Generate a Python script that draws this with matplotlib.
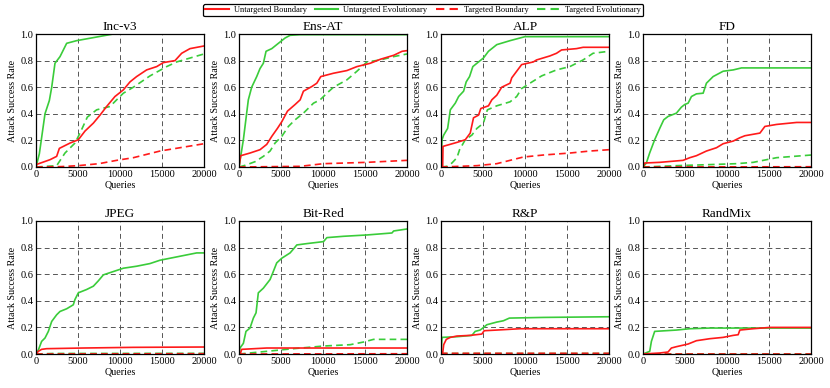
import numpy as np
import matplotlib
matplotlib.use("Agg")
import matplotlib.pyplot as plt
from matplotlib.lines import Line2D

plt.rcParams["font.family"] = "serif"
plt.rcParams["font.serif"] = ["Liberation Serif", "DejaVu Serif"]

# (queries, success rate) pairs
# ub = untargeted boundary, ue = untargeted evolutionary,
# tb = targeted boundary,   te = targeted evolutionary
incv3_ue = [(0, 0), (400, 0.1), (1070, 0.4), (1590, 0.5), (1870, 0.6), (2260, 0.78), (2860, 0.83),
            (3650, 0.93), (4840, 0.95), (9200, 1.0), (20000, 1.0)]
incv3_ub = [(0, 0), (100, 0.02), (1670, 0.055), (2460, 0.08), (2780, 0.14), (4050, 0.18), (5040, 0.205),
            (5830, 0.27), (6830, 0.33), (7620, 0.39), (8410, 0.455), (9400, 0.53), (10400, 0.58),
            (11190, 0.64), (11980, 0.68), (13170, 0.73), (14370, 0.755), (15160, 0.785), (16550, 0.8),
            (17340, 0.855), (18330, 0.89), (20000, 0.91)]
incv3_tb = [(0, 0), (3000, 0.003), (5000, 0.01), (7500, 0.025), (9600, 0.05), (11590, 0.07),
            (14760, 0.12), (20000, 0.175)]
incv3_te = [(0, 0), (2460, 0.01), (3450, 0.105), (4640, 0.18), (5240, 0.255), (6110, 0.375), (7220, 0.43),
            (8810, 0.455), (9600, 0.505), (10400, 0.555), (11590, 0.6), (13570, 0.685), (15560, 0.755),
            (16750, 0.79), (20000, 0.85)]

ensat_ue = [(0, 0), (520, 0.205), (1110, 0.505), (1510, 0.6), (2110, 0.68), (2500, 0.74), (2900, 0.78),
            (3220, 0.87), (3900, 0.89), (4690, 0.93), (5490, 0.97), (6080, 0.99), (7280, 0.995),
            (20000, 0.995)]
ensat_ub = [(0, 0), (200, 0.085), (1310, 0.105), (2500, 0.13), (3300, 0.17), (3900, 0.23), (4570, 0.29),
            (5090, 0.34), (5770, 0.42), (6680, 0.47), (7280, 0.505), (7670, 0.57), (8670, 0.605),
            (9260, 0.63), (9740, 0.68), (11250, 0.705), (12840, 0.725), (14040, 0.755), (15630, 0.78),
            (16830, 0.81), (18420, 0.84), (19420, 0.87), (20000, 0.875)]
ensat_tb = [(0, 0), (7280, 0.005), (10060, 0.025), (15230, 0.035), (20000, 0.05)]
ensat_te = [(0, 0), (720, 0.0125), (1910, 0.04), (2900, 0.08), (3700, 0.12), (4290, 0.18), (5090, 0.23),
            (5880, 0.305), (6680, 0.355), (7670, 0.405), (8870, 0.48), (9660, 0.505), (10460, 0.555),
            (11250, 0.6), (12840, 0.655), (14040, 0.72), (15230, 0.79), (16830, 0.805), (18420, 0.83),
            (20000, 0.85)]

alp_ue = [(0, 0), (120, 0.205), (320, 0.24), (790, 0.29), (1110, 0.43), (1700, 0.48), (2100, 0.53),
          (2690, 0.57), (3000, 0.64), (3400, 0.68), (3790, 0.755), (4470, 0.79), (5060, 0.82),
          (5650, 0.87), (6640, 0.92), (8220, 0.95), (10000, 0.98), (20000, 0.98)]
alp_ub = [(0, 0), (200, 0.005), (240, 0.155), (1900, 0.185), (2890, 0.205), (3480, 0.255), (3870, 0.37),
          (4470, 0.39), (4740, 0.44), (5650, 0.46), (6050, 0.505), (6640, 0.54), (7230, 0.6),
          (8220, 0.63), (8420, 0.67), (9010, 0.72), (9600, 0.77), (10990, 0.79), (11380, 0.805),
          (12960, 0.835), (13750, 0.855), (14350, 0.88), (16130, 0.89), (16920, 0.9), (20000, 0.9)]
alp_tb = [(0, 0), (4270, 0.01), (6640, 0.025), (8220, 0.05), (9800, 0.075), (12170, 0.09),
          (15340, 0.105), (17710, 0.12), (20000, 0.13)]
alp_te = [(0, 0), (710, 0.005), (1300, 0.03), (1900, 0.07), (2210, 0.13), (2890, 0.205), (3680, 0.24),
          (4270, 0.29), (5060, 0.33), (5380, 0.405), (5530, 0.43), (6640, 0.46), (8220, 0.49),
          (9010, 0.53), (9600, 0.59), (10590, 0.63), (11980, 0.685), (13750, 0.73), (15340, 0.755),
          (16920, 0.805), (18100, 0.855), (20000, 0.87)]

fd_ue = [(0, 0), (400, 0.03), (790, 0.105), (1390, 0.205), (1990, 0.29), (2470, 0.355), (2980, 0.38),
         (3980, 0.405), (4570, 0.45), (4970, 0.47), (5370, 0.48), (5770, 0.53), (6360, 0.55),
         (7160, 0.555), (7550, 0.63), (8350, 0.68), (9540, 0.72), (10740, 0.73), (11730, 0.745),
         (20000, 0.745)]
fd_ub = [(0, 0), (200, 0.03), (1990, 0.035), (4770, 0.05), (5570, 0.07), (6360, 0.085), (7550, 0.12),
         (8750, 0.145), (9540, 0.175), (10740, 0.195), (11530, 0.22), (12130, 0.235), (13920, 0.255),
         (14510, 0.305), (15900, 0.32), (18290, 0.335), (20000, 0.335)]
fd_tb = [(0, 0), (20000, 0.002)]
fd_te = [(0, 0), (3980, 0.01), (7950, 0.018), (11130, 0.025), (13120, 0.035), (14710, 0.055),
         (15900, 0.07), (20000, 0.09)]

jpeg_ue = [(0, 0), (280, 0.03), (670, 0.095), (1070, 0.12), (1470, 0.17), (1870, 0.245), (2460, 0.295),
           (2860, 0.32), (3650, 0.34), (4440, 0.37), (4640, 0.41), (5040, 0.46), (6030, 0.485),
           (6830, 0.51), (7420, 0.55), (8020, 0.595), (9210, 0.62), (10400, 0.645), (11980, 0.66),
           (13570, 0.68), (14760, 0.705), (16350, 0.725), (18330, 0.75), (19130, 0.76), (20000, 0.76)]
jpeg_ub = [(0, 0), (280, 0.02), (670, 0.035), (1270, 0.04), (5630, 0.045), (11590, 0.05), (20000, 0.0525)]
jpeg_tb = [(0, 0), (20000, 0.002)]
jpeg_te = [(0, 0), (2000, 0.004), (20000, 0.005)]

bitred_ue = [(0, 0), (120, 0.045), (520, 0.08), (830, 0.17), (1310, 0.195), (1710, 0.27), (2030, 0.31),
             (2300, 0.46), (2900, 0.495), (3700, 0.56), (4020, 0.61), (4490, 0.685), (5090, 0.72),
             (6080, 0.76), (6560, 0.795), (6880, 0.82), (8070, 0.83), (10060, 0.845), (10460, 0.875),
             (12440, 0.885), (15230, 0.895), (18210, 0.91), (18410, 0.925), (20000, 0.94)]
bitred_ub = [(0, 0), (200, 0.01), (320, 0.035), (3300, 0.045), (20000, 0.045)]
bitred_tb = [(0, 0), (20000, 0.002)]
bitred_te = [(0, 0), (3300, 0.02), (6480, 0.04), (10060, 0.06), (13240, 0.07), (14830, 0.09),
             (16020, 0.11), (20000, 0.11)]

rp_ue = [(0, 0), (120, 0.125), (1900, 0.13), (3680, 0.14), (4070, 0.17), (4660, 0.18), (4980, 0.195),
         (5450, 0.22), (6640, 0.24), (7430, 0.25), (8140, 0.27), (12170, 0.275), (20000, 0.28)]
rp_ub = [(0, 0), (200, 0.005), (320, 0.07), (630, 0.11), (1110, 0.125), (1900, 0.135), (3480, 0.14),
         (4860, 0.15), (5140, 0.175), (6640, 0.18), (9410, 0.19), (20000, 0.19)]
rp_tb = [(0, 0), (300, 0.005), (20000, 0.005)]
rp_te = [(0, 0), (300, 0.004), (20000, 0.004)]

randmix_ue = [(0, 0), (600, 0.015), (800, 0.02), (1000, 0.095), (1390, 0.17), (3980, 0.18), (5570, 0.19),
              (7950, 0.195), (20000, 0.195)]
randmix_ub = [(0, 0), (1990, 0.0075), (2980, 0.015), (3380, 0.045), (3980, 0.055), (5370, 0.075),
              (6360, 0.1), (7950, 0.115), (9540, 0.125), (10740, 0.14), (11330, 0.145), (11530, 0.18),
              (13120, 0.19), (15110, 0.2), (20000, 0.2)]
randmix_tb = [(0, 0), (20000, 0.0)]
randmix_te = [(0, 0), (20000, 0.0)]

titles = ["Inc-v3", "Ens-AT", "ALP", "FD", "JPEG", "Bit-Red", "R&P", "RandMix"]
series_names = ["Untargeted Boundary", "Untargeted Evolutionary", "Targeted Boundary", "Targeted Evolutionary"]
panels = [
    (incv3_ub, incv3_ue, incv3_tb, incv3_te),
    (ensat_ub, ensat_ue, ensat_tb, ensat_te),
    (alp_ub, alp_ue, alp_tb, alp_te),
    (fd_ub, fd_ue, fd_tb, fd_te),
    (jpeg_ub, jpeg_ue, jpeg_tb, jpeg_te),
    (bitred_ub, bitred_ue, bitred_tb, bitred_te),
    (rp_ub, rp_ue, rp_tb, rp_te),
    (randmix_ub, randmix_ue, randmix_tb, randmix_te),
]

red = "#ff1a1a"
green = "#3acc3a"
styles = [(red, "-"), (green, "-"), (red, "--"), (green, "--")]

fig = plt.figure(figsize=(8.3, 3.88), dpi=100)
lefts = [36, 239, 441, 643]
w = 168 / 830
bottoms = [(388 - 167) / 388, (388 - 354) / 388]
h = 133 / 388

for i, (title, data) in enumerate(zip(titles, panels)):
    ax = fig.add_axes([lefts[i % 4] / 830, bottoms[i // 4], w, h])
    # draw greens first so the red curves sit on top
    for k in [3, 1, 2, 0]:
        arr = np.array(data[k])
        c, ls = styles[k]
        ax.plot(arr[:, 0], arr[:, 1], color=c, linewidth=1.2,
                linestyle=(0, (4, 2.5)) if ls == "--" else "-")
    ax.set_xlim(0, 20000)
    ax.set_ylim(0, 1.0)
    ax.set_xticks([0, 5000, 10000, 15000, 20000])
    ax.set_yticks([0.0, 0.2, 0.4, 0.6, 0.8, 1.0])
    ax.set_yticklabels(["0.0", "0.2", "0.4", "0.6", "0.8", "1.0"])
    ax.tick_params(labelsize=7.5, length=0, pad=2)
    ax.grid(True, color="#555555", linestyle=(0, (5, 3.5)), linewidth=0.7)
    ax.set_axisbelow(True)
    for sp in ax.spines.values():
        sp.set_linewidth(0.9)
    ax.set_title(title, fontsize=9.5, pad=3)
    ax.set_ylabel("Attack Success Rate", fontsize=7.2, labelpad=2)
    ax.set_xlabel("Queries", fontsize=7.2, labelpad=1)

handles = [Line2D([], [], color=c, linewidth=1.5,
                  linestyle=(0, (4, 2.5)) if ls == "--" else "-") for c, ls in styles]
leg = fig.legend(handles, series_names, loc="upper center", bbox_to_anchor=(0.51, 1.0), ncol=4,
                 fontsize=6, frameon=True, fancybox=True, edgecolor="black", handlelength=2.8,
                 borderpad=0.25, columnspacing=1.0, handletextpad=0.6, framealpha=1)
leg.get_frame().set_linewidth(0.9)

fig.savefig("out.png", dpi=100)
